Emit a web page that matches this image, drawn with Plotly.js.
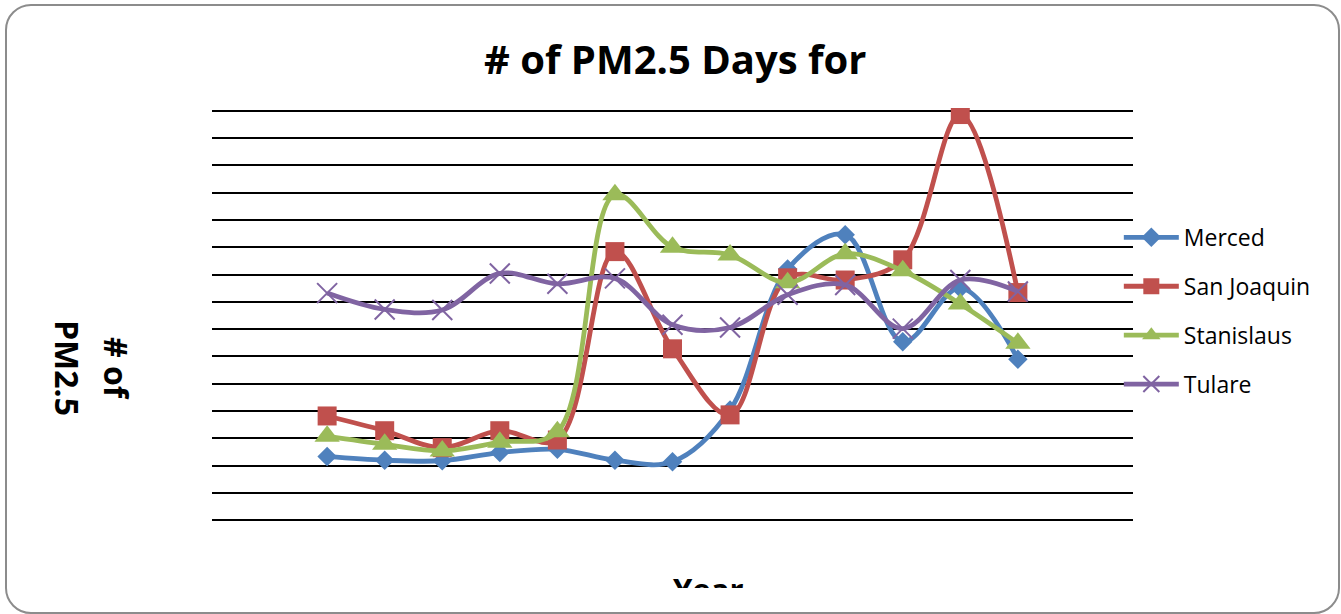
<!DOCTYPE html>
<html>
<head>
<meta charset="utf-8">
<script src="https://cdn.plot.ly/plotly-3.0.1.min.js"></script>
<style>
  html, body { margin: 0; padding: 0; background: #ffffff; }
  #wrap { position: absolute; left: 0; top: 0; width: 1341px; height: 588px; overflow: hidden; }
  #chart { width: 1341px; height: 614px; }
  #frame { position: absolute; left: 5px; top: 4px; width: 1331px; height: 606px;
           border: 2px solid #8c8c8c; border-radius: 26px; pointer-events: none; }
</style>
</head>
<body>
<div id="wrap"><div id="chart"></div></div>
<div id="frame"></div>
<script>
// Year index (category positions, no labels shown in the reference)
const years = [0, 1, 2, 3, 4, 5, 6, 7, 8, 9, 10, 11, 12];
const seriesNames = ["Merced", "San Joaquin", "Stanislaus", "Tulare"];
const merced     = [11.7, 11.0, 10.9, 12.4, 13.0, 11.0, 10.7, 20.2, 46.0, 52.3, 32.7, 42.5, 29.5];
const sanJoaquin = [19.1, 16.4, 13.3, 16.4, 14.7, 49.2, 31.4, 19.3, 44.4, 44.0, 47.7, 74.3, 41.7];
const stanislaus = [15.4, 13.9, 12.7, 14.3, 16.2, 59.6, 50.0, 48.6, 43.5, 48.8, 45.7, 39.6, 32.4];
const tulare     = [41.6, 38.6, 38.5, 45.2, 43.3, 44.3, 35.8, 35.3, 41.3, 43.1, 35.1, 44.0, 41.9];

const seriesValues = [merced, sanJoaquin, stanislaus, tulare];
const colors = ["#4F81BD", "#C0504D", "#9BBB59", "#8064A2"];
const symbols = ["diamond", "square", "triangle-up", "x-thin"];
const sizes = [15, 19, 22, 20];

const traces = seriesNames.map((name, i) => ({
  type: "scatter",
  mode: "lines+markers",
  name: name,
  legendgroup: "g" + i,
  x: years,
  y: seriesValues[i],
  line: { color: colors[i], width: 4.8, shape: "spline", smoothing: 1 },
  marker: {
    symbol: symbols[i],
    size: sizes[i],
    color: colors[i],
    line: { color: colors[i], width: symbols[i] === "x-thin" ? 2 : 0 }
  }
}));

const plotBottom = 523, plotH = 415;
const py = (pix) => (plotBottom - pix) / plotH;

const layout = {
  width: 1341,
  height: 614,
  paper_bgcolor: "#ffffff",
  plot_bgcolor: "#ffffff",
  font: { family: "Open Sans, sans-serif", color: "#000000" },
  margin: { l: 212, r: 208, t: 108, b: 91, pad: 0 },
  title: {
    text: "<b># of PM2.5 Days for</b>",
    font: { family: "Open Sans, sans-serif", size: 40, color: "#000000" },
    x: 0.5035, xanchor: "center",
    y: 0.903, yanchor: "middle", yref: "container"
  },
  showlegend: true,
  legend: {
    x: 0.9846, xanchor: "left",
    y: 0.740, yanchor: "top",
    font: { size: 23, color: "#000000" },
    tracegroupgap: 16,
    itemwidth: 55,
    bgcolor: "rgba(0,0,0,0)"
  },
  xaxis: {
    range: [-2, 14],
    showgrid: false, zeroline: false, showline: false,
    showticklabels: false, ticks: ""
  },
  yaxis: {
    range: [-0.5, 75.5],
    tick0: 0, dtick: 5,
    showgrid: true, gridcolor: "#000000", gridwidth: 2,
    zeroline: false, showline: false,
    showticklabels: false, ticks: ""
  },
  annotations: [
    { text: "<b># of</b>", textangle: 90, xref: "paper", yref: "paper",
      x: (117 - 212) / 921, y: py(368), xanchor: "center", yanchor: "middle",
      showarrow: false, font: { size: 32, color: "#000000" } },
    { text: "<b>PM2.5</b>", textangle: 90, xref: "paper", yref: "paper",
      x: (68 - 212) / 921, y: py(368), xanchor: "center", yanchor: "middle",
      showarrow: false, font: { size: 32, color: "#000000" } },
    { text: "<b>Year</b>", xref: "paper", yref: "paper",
      x: (708 - 212) / 921, y: py(589), xanchor: "center", yanchor: "middle",
      showarrow: false, font: { size: 31, color: "#000000" } }
  ]
};

Plotly.newPlot("chart", traces, layout, { displayModeBar: false, staticPlot: true });
</script>
</body>
</html>
